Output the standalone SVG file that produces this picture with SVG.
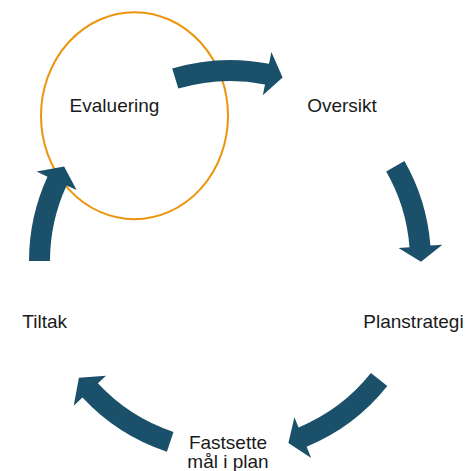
<svg xmlns="http://www.w3.org/2000/svg" width="466" height="471" viewBox="0 0 466 471">
<style>
.lbl{font-family:"Liberation Sans",Arial,sans-serif;font-size:19px;fill:#1a1a1a;text-anchor:middle}
.arr{fill:#1B506A;stroke:none}
</style>
<rect width="466" height="471" fill="#ffffff"/>
<g id="node-evaluering">
<ellipse cx="134.5" cy="115.7" rx="93.5" ry="103.5" fill="none" stroke="#EB960E" stroke-width="2"/>
<text class="lbl" x="114.5" y="112">Evaluering</text>
</g>
<g id="node-oversikt"><text class="lbl" x="342" y="111.7">Oversikt</text></g>
<g id="node-planstrategi"><text class="lbl" x="413.5" y="328">Planstrategi</text></g>
<g id="node-fastsette"><text class="lbl" x="228" y="448.5">Fastsette</text><text class="lbl" x="228" y="468">mål i plan</text></g>
<g id="node-tiltak"><text class="lbl" x="44.7" y="328">Tiltak</text></g>
<g id="connectors">
<path class="arr" d="M172.2,68.5 A201,201 0 0 1 269.0,63.8 L271.4,52.0 L282.6,77.4 L262.8,95.2 L265.0,84.4 A180,180 0 0 0 178.3,88.6 Z"/>
<path class="arr" d="M404.4,161.1 A201,201 0 0 1 430.4,245.6 L442.4,244.7 L421.0,261.7 L398.5,248.0 L409.5,247.2 A180,180 0 0 0 386.2,171.5 Z"/>
<path class="arr" d="M387.3,386.1 A201,201 0 0 1 306.6,446.8 L311.2,457.9 L288.4,442.9 L294.4,417.2 L298.6,427.4 A180,180 0 0 0 370.9,373.1 Z"/>
<path class="arr" d="M166.9,451.8 A201,201 0 0 1 82.5,397.6 L73.7,405.7 L78.9,377.8 L106.0,375.8 L97.9,383.3 A180,180 0 0 0 173.5,431.9 Z"/>
<path class="arr" d="M29,261 A201,201 0 0 1 47.5,176.7 L36.6,171.6 L64.1,166.4 L76.6,190.1 L66.6,185.5 A180,180 0 0 0 50,261 Z"/>
</g>
</svg>
